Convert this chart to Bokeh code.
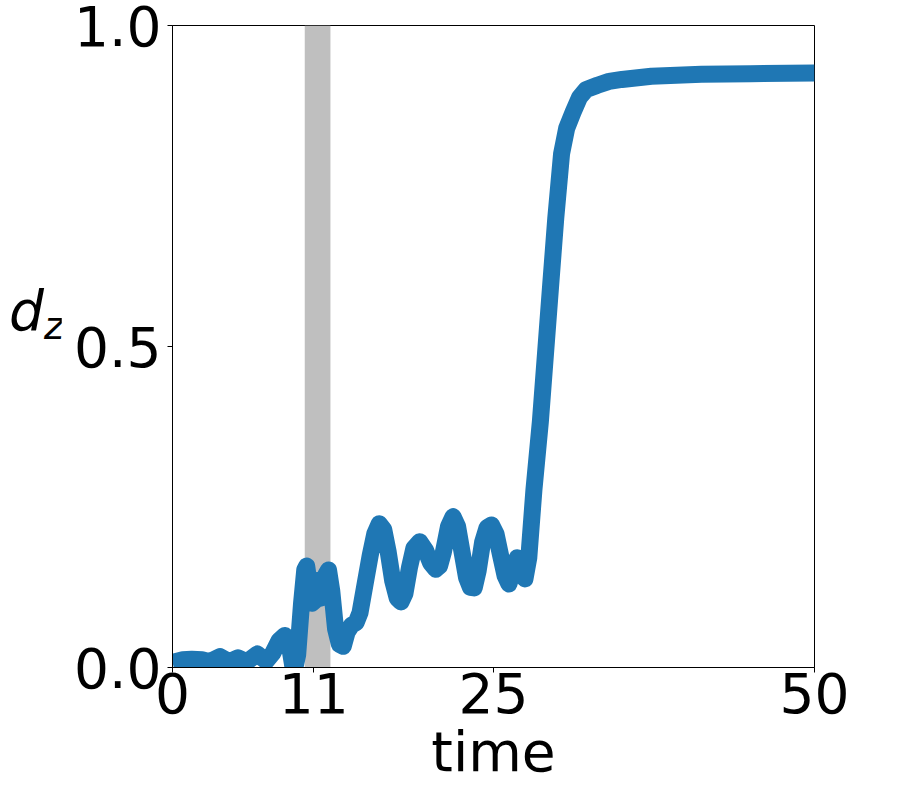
from bokeh.plotting import figure
from bokeh.models import Range1d, FixedTicker, BoxAnnotation, ColumnDataSource, Div
from bokeh.layouts import row
from bokeh.embed import file_html
from bokeh.resources import INLINE

# --- data ---
time = [0.0, 0.8, 1.5, 2.3, 2.9, 3.7, 4.4, 5.1, 5.8, 6.6, 7.3, 7.8, 8.3, 8.75, 9.1,
        9.45, 9.75, 10.05, 10.3, 10.45, 10.65, 10.85, 11.1, 11.35, 11.55, 11.75,
        11.95, 12.15, 12.4, 12.7, 13.0, 13.3, 13.6, 13.95, 14.3, 14.6, 15.0, 15.4,
        15.75, 16.1, 16.45, 16.8, 17.15, 17.5, 17.8, 18.1, 18.45, 18.8, 19.25, 19.7,
        20.1, 20.5, 20.8, 21.1, 21.5, 21.85, 22.2, 22.55, 22.9, 23.2, 23.5, 23.8,
        24.15, 24.5, 24.85, 25.2, 25.55, 25.9, 26.2, 26.5, 26.85, 27.15, 27.45,
        27.75, 28.15, 28.65, 29.05, 29.45, 29.85, 30.3, 30.7, 31.2, 31.7, 32.2,
        33.1, 34.0, 35.0, 37.3, 41.2, 45.0, 50.0]
dz = [0.008, 0.012, 0.013, 0.012, 0.009, 0.017, 0.009, 0.015, 0.009, 0.021, 0.010,
      0.022, 0.042, 0.050, 0.035, -0.008, 0.020, 0.100, 0.152, 0.158, 0.130, 0.100,
      0.104, 0.136, 0.108, 0.112, 0.145, 0.152, 0.120, 0.060, 0.036, 0.033, 0.055,
      0.066, 0.070, 0.085, 0.130, 0.175, 0.208, 0.224, 0.215, 0.180, 0.135, 0.108,
      0.102, 0.115, 0.155, 0.186, 0.196, 0.183, 0.163, 0.153, 0.158, 0.180, 0.220,
      0.235, 0.220, 0.180, 0.140, 0.125, 0.124, 0.150, 0.195, 0.218, 0.222, 0.208,
      0.175, 0.143, 0.130, 0.150, 0.171, 0.160, 0.138, 0.171, 0.277, 0.383, 0.489,
      0.595, 0.700, 0.800, 0.840, 0.865, 0.888, 0.900, 0.907, 0.913, 0.916, 0.921,
      0.924, 0.925, 0.926]
band_start = 10.3
band_end = 12.3
x_ticks = [0, 11, 25, 50]
x_tick_labels = ["0", "11", "25", "50"]
y_ticks = [0.0, 0.5, 1.0]
y_tick_labels = ["0.0", "0.5", "1.0"]

FONT = "DejaVu Sans"
FS = "55px"
LEFT_W = 51

p = figure(frame_width=642, frame_height=642, output_backend="svg", toolbar_location=None,
           x_range=Range1d(0, 50), y_range=Range1d(0, 1.0),
           min_border_left=111, min_border_top=25, min_border_right=70,
           min_border_bottom=110)
p.background_fill_color = "white"
p.border_fill_color = "white"
p.outline_line_color = "black"
p.outline_line_width = 1
p.outline_line_alpha = 1
p.grid.visible = False

p.add_layout(BoxAnnotation(left=band_start, right=band_end, fill_color="#bfbfbf",
                           fill_alpha=1.0, line_alpha=0, level="underlay"))

src = ColumnDataSource(dict(t=time, d=dz))
p.line("t", "d", source=src, line_color="#1f77b4", line_width=17,
       line_join="round", line_cap="butt")

for ax in (p.xaxis[0], p.yaxis[0]):
    ax.major_label_text_font = FONT
    ax.major_label_text_font_size = FS
    ax.major_label_text_color = "black"
    ax.major_tick_in = 0
    ax.major_tick_out = 5
    ax.minor_tick_in = 0
    ax.minor_tick_out = 0
    ax.axis_line_color = "black"
    ax.major_tick_line_color = "black"

p.xaxis.ticker = FixedTicker(ticks=x_ticks)
p.xaxis.major_label_overrides = {t: l for t, l in zip(x_ticks, x_tick_labels)}
p.yaxis.ticker = FixedTicker(ticks=y_ticks)
p.yaxis.major_label_overrides = {t: l for t, l in zip(y_ticks, y_tick_labels)}
p.xaxis.major_label_standoff = 0
p.yaxis.major_label_standoff = 6

p.xaxis.axis_label = "time"
p.xaxis.axis_label_text_font = FONT
p.xaxis.axis_label_text_font_size = FS
p.xaxis.axis_label_text_font_style = "normal"
p.xaxis.axis_label_text_color = "black"
p.xaxis.axis_label_standoff = 4

ylabel = Div(
    text=('<div style="font-family:\'DejaVu Sans\'; font-size:55px; font-style:italic; '
          'line-height:55px; margin-top:279px; margin-left:4px; white-space:nowrap; '
          'color:black">d<span style="font-size:38px; position:relative; top:9px">z</span></div>'),
    width=LEFT_W, height=777)

layout = row(ylabel, p, spacing=0)
open("out.html", "w").write(file_html(layout, INLINE))
